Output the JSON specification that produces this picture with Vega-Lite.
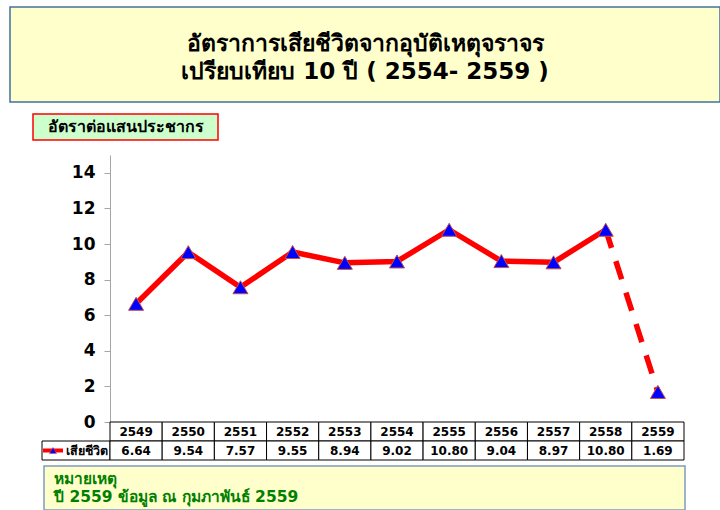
{
  "$schema": "https://vega.github.io/schema/vega-lite/v6.json",
  "padding": {"left": 9, "top": 6, "right": 0, "bottom": 0},
  "background": "#ffffff",
  "bounds": "flush",
  "spacing": 0,
  "resolve": {"scale": {"x": "independent", "y": "independent"}},
  "config": {"view": {"stroke": null}, "font": "DejaVu Sans"},
  "datasets": {
    "rates": [
      {"year": 2549, "rate": 6.64},
      {"year": 2550, "rate": 9.54},
      {"year": 2551, "rate": 7.57},
      {"year": 2552, "rate": 9.55},
      {"year": 2553, "rate": 8.94},
      {"year": 2554, "rate": 9.02},
      {"year": 2555, "rate": 10.80},
      {"year": 2556, "rate": 9.04},
      {"year": 2557, "rate": 8.97},
      {"year": 2558, "rate": 10.80},
      {"year": 2559, "rate": 1.69}
    ],
    "series": [{"series": "เสียชีวิต"}],
    "title": [
      {"line": 1, "text": "อัตราการเสียชีวิตจากอุบัติเหตุจราจร"},
      {"line": 2, "text": "เปรียบเทียบ 10 ปี ( 2554- 2559 )"}
    ],
    "ylabel": [{"label": "อัตราต่อแสนประชากร"}],
    "note": [
      {"line": 1, "text": "หมายเหตุ"},
      {"line": 2, "text": "ปี 2559 ข้อมูล ณ กุมภาพันธ์ 2559"}
    ],
    "notebox": [{"box": "note"}]
  },
  "vconcat": [
    {
      "width": 710,
      "height": 95,
      "view": {"fill": "#ffffcc", "stroke": "#41719c", "strokeWidth": 1.5},
      "data": {"name": "title"},
      "mark": {"type": "text", "fontWeight": "bold", "fontSize": 23, "baseline": "middle", "color": "#000000"},
      "encoding": {
        "y": {"field": "line", "type": "ordinal", "scale": {"type": "point", "range": [37, 65], "padding": 0}, "axis": null},
        "text": {"field": "text", "type": "nominal"}
      }
    },
    {
      "width": 208,
      "height": 53,
      "data": {"name": "ylabel"},
      "encoding": {
        "x": {"field": "label", "type": "nominal", "scale": {"type": "band", "range": [23, 208], "paddingInner": 0, "paddingOuter": 0}, "axis": null},
        "y": {"field": "label", "type": "nominal", "scale": {"type": "band", "range": [12, 38], "paddingInner": 0, "paddingOuter": 0}, "axis": null}
      },
      "layer": [
        {"mark": {"type": "rect", "fill": "#ccffcc", "stroke": "#ff0000", "strokeWidth": 1.5}},
        {"mark": {"type": "text", "fontWeight": "bold", "fontSize": 16, "baseline": "middle", "color": "#000000"}, "encoding": {"text": {"field": "label", "type": "nominal"}}}
      ]
    },
    {
      "width": 674,
      "height": 267,
      "data": {"name": "rates"},
      "encoding": {
        "x": {"field": "year", "type": "ordinal", "scale": {"type": "point", "range": [100, 674], "padding": 0.5}, "axis": null},
        "y": {
          "field": "rate", "type": "quantitative",
          "scale": {"domain": [0, 15], "nice": false, "zero": true},
          "axis": {
            "values": [0, 2, 4, 6, 8, 10, 12, 14], "offset": -100, "grid": false, "title": null,
            "domainColor": "#a6a6a6", "tickColor": "#a6a6a6", "tickSize": 6, "labelPadding": 9,
            "labelFontSize": 17, "labelFontWeight": "bold", "labelColor": "#000000"
          }
        }
      },
      "layer": [
        {"transform": [{"filter": "datum.year <= 2558"}], "mark": {"type": "line", "color": "#ff0000", "strokeWidth": 5.5, "strokeJoin": "round"}},
        {"transform": [{"filter": "datum.year >= 2558"}], "mark": {"type": "line", "color": "#ff0000", "strokeWidth": 5.5, "strokeDash": [19, 14]}},
        {"mark": {"type": "point", "shape": "triangle-up", "size": 225, "filled": true, "fill": "#0000ff", "stroke": "#c0504d", "strokeWidth": 1, "opacity": 1}}
      ]
    },
    {
      "width": 674,
      "height": 38,
      "resolve": {"scale": {"x": "independent"}},
      "layer": [
        {
          "data": {"name": "series"},
          "encoding": {
            "x": {"field": "series", "type": "nominal", "scale": {"type": "band", "range": [32, 100], "paddingInner": 0, "paddingOuter": 0}, "axis": null},
            "y": {"datum": "v", "type": "nominal", "scale": {"domain": ["y", "v"], "paddingInner": 0, "paddingOuter": 0}, "axis": null}
          },
          "layer": [
            {"mark": {"type": "rect", "fill": "#ffffff", "stroke": "#000000", "strokeWidth": 1}},
            {"mark": {"type": "point", "shape": "M-1,0L1,0", "size": 400, "filled": false, "stroke": "#ff0000", "strokeWidth": 4, "xOffset": -23, "opacity": 1}},
            {"mark": {"type": "point", "shape": "triangle-up", "size": 50, "filled": true, "fill": "#0000ff", "stroke": "#c0504d", "strokeWidth": 0.5, "xOffset": -23, "opacity": 1}},
            {"mark": {"type": "text", "align": "right", "baseline": "middle", "fontWeight": "bold", "fontSize": 12.5, "dx": 32, "color": "#000000"}, "encoding": {"text": {"field": "series", "type": "nominal"}}}
          ]
        },
        {
          "data": {"name": "rates"},
          "encoding": {
            "x": {"field": "year", "type": "ordinal", "scale": {"type": "band", "range": [100, 674], "paddingInner": 0, "paddingOuter": 0}, "axis": null}
          },
          "layer": [
            {"mark": {"type": "rect", "fill": "#ffffff", "stroke": "#000000", "strokeWidth": 1},
             "encoding": {"y": {"datum": "y", "type": "nominal", "scale": {"domain": ["y", "v"], "paddingInner": 0, "paddingOuter": 0}, "axis": null}}},
            {"mark": {"type": "rect", "fill": "#ffffff", "stroke": "#000000", "strokeWidth": 1},
             "encoding": {"y": {"datum": "v", "type": "nominal", "scale": {"domain": ["y", "v"], "paddingInner": 0, "paddingOuter": 0}, "axis": null}}},
            {"mark": {"type": "text", "baseline": "middle", "fontWeight": "bold", "fontSize": 12, "color": "#000000"},
             "encoding": {"y": {"datum": "y", "type": "nominal", "axis": null}, "text": {"field": "year", "type": "nominal"}}},
            {"mark": {"type": "text", "baseline": "middle", "fontWeight": "bold", "fontSize": 12, "color": "#000000"},
             "encoding": {"y": {"datum": "v", "type": "nominal", "axis": null}, "text": {"field": "rate", "type": "quantitative", "format": ".2f"}}}
          ]
        }
      ]
    },
    {
      "width": 675,
      "height": 50,
      "resolve": {"scale": {"y": "independent"}},
      "layer": [
        {
          "data": {"name": "notebox"},
          "mark": {"type": "rect", "fill": "#ffffcc", "stroke": "#7f9bc4", "strokeWidth": 1.5},
          "encoding": {
            "x": {"field": "box", "type": "nominal", "scale": {"type": "band", "range": [34, 675], "paddingInner": 0, "paddingOuter": 0}, "axis": null},
            "y": {"field": "box", "type": "nominal", "scale": {"type": "band", "range": [6, 50], "paddingInner": 0, "paddingOuter": 0}, "axis": null}
          }
        },
        {
          "data": {"name": "note"},
          "mark": {"type": "text", "align": "left", "baseline": "middle", "fontWeight": "bold", "fontSize": 15.5, "color": "#008000", "dx": 10},
          "encoding": {
            "x": {"datum": "note", "type": "nominal", "bandPosition": 0, "axis": null},
            "y": {"field": "line", "type": "ordinal", "scale": {"type": "point", "range": [19, 37], "padding": 0}, "axis": null},
            "text": {"field": "text", "type": "nominal"}
          }
        }
      ]
    }
  ]
}
